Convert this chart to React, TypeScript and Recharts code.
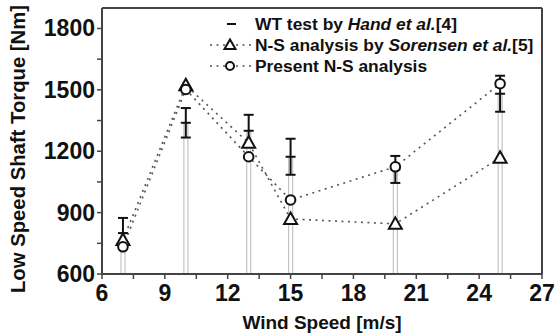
import React from "react";
import {
  ComposedChart,
  Bar,
  Line,
  ErrorBar,
  XAxis,
  YAxis,
  ReferenceLine,
} from "recharts";

const windSpeed = [7, 10, 13, 15, 20, 25];
const wtTest = [800, 1339, 1300, 1173, 1111, 1481];
const wtError = [74, 72, 78, 88, 66, 88];
const sorensen = [766, 1522, 1241, 869, 845, 1168];
const present = [733, 1502, 1173, 962, 1124, 1530];

const xTicks = [6, 7.5, 9, 10.5, 12, 13.5, 15, 16.5, 18, 19.5, 21, 22.5, 24, 25.5, 27];
const yTicks = [600, 750, 900, 1050, 1200, 1350, 1500, 1650, 1800];

const data = windSpeed.map((x, i) => ({
  x,
  wt: wtTest[i],
  wtErr: wtError[i],
  sor: sorensen[i],
  pre: present[i],
}));

const FONT = '"Liberation Sans", Arial, sans-serif';
const INK = "#111";
const DOTS = "2 4.5";

function XTick({ x, y, payload }: any) {
  if (payload.value % 3 !== 0) return null;
  return (
    <text x={x} y={y} dy={19.5} textAnchor="middle" fontSize={23} fontWeight="bold" fill={INK} fontFamily={FONT}>
      {payload.value}
    </text>
  );
}

function YTick({ x, y, payload }: any) {
  if (payload.value % 300 !== 0) return null;
  return (
    <text x={x} y={y} dy={8} textAnchor="end" fontSize={23} fontWeight="bold" fill={INK} fontFamily={FONT}>
      {payload.value}
    </text>
  );
}

function YLabel() {
  const cx = 18;
  const cy = 149;
  return (
    <text
      x={cx}
      y={cy}
      transform={`rotate(-90 ${cx} ${cy})`}
      textAnchor="middle"
      dominantBaseline="central"
      fontSize={20.3}
      fontWeight="bold"
      fill={INK}
      fontFamily={FONT}
    >
      Low Speed Shaft Torque [Nm]
    </text>
  );
}

function Triangle({ cx, cy }: any) {
  if (cx == null || cy == null) return null;
  return (
    <polygon
      points={`${cx},${cy - 6.5} ${cx + 6.5},${cy + 5} ${cx - 6.5},${cy + 5}`}
      fill="#fff"
      stroke={INK}
      strokeWidth={2}
    />
  );
}

function Circle({ cx, cy }: any) {
  if (cx == null || cy == null) return null;
  return <circle cx={cx} cy={cy} r={4.8} fill="#fff" stroke={INK} strokeWidth={2} />;
}

function MeanDash({ cx, cy }: any) {
  if (cx == null || cy == null) return null;
  return <line x1={cx - 5} x2={cx + 5} y1={cy} y2={cy} stroke={INK} strokeWidth={2} />;
}

function LegendBox() {
  const row = (icon: React.ReactNode, label: React.ReactNode, top: number) => (
    <div style={{ position: "absolute", left: 0, top, display: "flex", alignItems: "center", height: 20 }}>
      <svg width={47} height={20}>{icon}</svg>
      <span style={{ fontSize: 17.4, fontWeight: "bold", color: INK, fontFamily: FONT, whiteSpace: "nowrap" }}>
        {label}
      </span>
    </div>
  );
  return (
    <div style={{ position: "absolute", left: 208, top: 14, width: 345, height: 70 }}>
      {row(<line x1={19} x2={28} y1={10} y2={10} stroke={INK} strokeWidth={2} />, <>WT test by <i>Hand et al.</i>[4]</>, 0)}
      {row(
        <g>
          <line x1={2} x2={44} y1={10} y2={10} stroke="#555" strokeWidth={1.6} strokeDasharray={DOTS} />
          <polygon points="22,4.5 27.5,14 16.5,14" fill="#fff" stroke={INK} strokeWidth={2} />
        </g>,
        <>N-S analysis by <i>Sorensen et al.</i>[5]</>,
        21
      )}
      {row(
        <g>
          <line x1={2} x2={44} y1={10} y2={10} stroke="#555" strokeWidth={1.6} strokeDasharray={DOTS} />
          <circle cx={22} cy={10} r={4} fill="#fff" stroke={INK} strokeWidth={2} />
        </g>,
        "Present N-S analysis",
        42
      )}
    </div>
  );
}

export default function App() {
  return (
    <div style={{ position: "absolute", left: 0, top: 0, width: 560, height: 336, background: "#fff" }}>
      <ComposedChart width={560} height={336} data={data} margin={{ top: 8, right: 18, left: 0, bottom: 0 }}>
        <XAxis
          dataKey="x"
          type="number"
          domain={[6, 27]}
          ticks={xTicks}
          interval={0}
          tick={<XTick />}
          tickSize={5}
          height={62}
          axisLine={{ stroke: "#444", strokeWidth: 2 }}
          tickLine={{ stroke: "#444", strokeWidth: 1.5 }}
          label={{
            value: "Wind Speed [m/s]",
            position: "insideBottom",
            offset: 7,
            fontSize: 19,
            fontWeight: "bold",
            fill: INK,
            fontFamily: FONT,
          }}
        />
        <YAxis
          type="number"
          domain={[600, 1900]}
          ticks={yTicks}
          interval={0}
          tick={<YTick />}
          tickSize={5}
          width={102}
          axisLine={{ stroke: "#444", strokeWidth: 2 }}
          tickLine={{ stroke: "#444", strokeWidth: 1.5 }}
          label={<YLabel />}
        />
        <ReferenceLine y={1900} stroke="#444" strokeWidth={2} />
        <ReferenceLine x={27} stroke="#444" strokeWidth={2} />
        <Bar dataKey="wt" barSize={4} fill="#fff" stroke="#c4c4c4" strokeWidth={1.2} isAnimationActive={false} />
        <Line
          dataKey="wt"
          stroke="none"
          dot={<MeanDash />}
          activeDot={false}
          isAnimationActive={false}
        >
          <ErrorBar dataKey="wtErr" width={5} stroke={INK} strokeWidth={2} direction="y" />
        </Line>
        <Line
          dataKey="sor"
          stroke="#555"
          strokeWidth={1.6}
          strokeDasharray={DOTS}
          dot={<Triangle />}
          activeDot={false}
          isAnimationActive={false}
        />
        <Line
          dataKey="pre"
          stroke="#555"
          strokeWidth={1.6}
          strokeDasharray={DOTS}
          dot={<Circle />}
          activeDot={false}
          isAnimationActive={false}
        />
      </ComposedChart>
      <LegendBox />
    </div>
  );
}
